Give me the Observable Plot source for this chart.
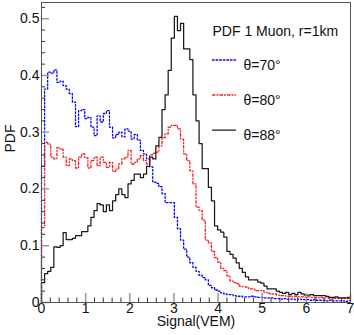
<!DOCTYPE html>
<html><head><meta charset="utf-8">
<script src="https://cdn.jsdelivr.net/npm/d3@7"></script>
<script src="https://cdn.jsdelivr.net/npm/@observablehq/plot@0.6"></script>
<style>
html,body{margin:0;padding:0;background:#fff;}
svg{font-family:"Liberation Sans",Arial,sans-serif;}
</style></head><body><div id="chart"></div>
<script>
// ---- data ----
const binWidth = 0.07; // VEM per bin, 100 bins from 0 to 7
const seriesNames = ["θ=70°", "θ=80°", "θ=88°"];
const legendTitle = "PDF 1 Muon, r=1km";
const xTitle = "Signal(VEM)";
const yTitle = "PDF";
const xTicks = [0, 1, 2, 3, 4, 5, 6, 7];
const xTickLabels = ["0", "1", "2", "3", "4", "5", "6", "7"];
const yTicks = [0, 0.1, 0.2, 0.3, 0.4, 0.5];
const yTickLabels = ["0", "0.1", "0.2", "0.3", "0.4", "0.5"];

const pdf70 = [
0.240,0.376,0.406,0.404,0.410,0.388,0.390,0.382,0.376,0.368,
0.353,0.310,0.338,0.340,0.324,0.326,0.309,0.294,0.329,0.318,
0.333,0.338,0.309,0.290,0.296,0.300,0.292,0.306,0.302,0.288,
0.296,0.286,0.268,0.262,0.253,0.239,0.212,0.210,0.204,0.192,
0.176,0.176,0.176,0.150,0.130,0.110,0.094,0.080,0.070,0.062,
0.055,0.048,0.044,0.040,0.030,0.026,0.022,0.020,0.017,0.015,
0.014,0.014,0.012,0.011,0.011,0.010,0.010,0.010,0.011,0.010,
0.009,0.009,0.008,0.008,0.008,0.007,0.007,0.006,0.007,0.006,
0.006,0.006,0.005,0.006,0.005,0.005,0.005,0.004,0.005,0.004,
0.004,0.004,0.003,0.004,0.003,0.003,0.003,0.003,0.002,0.003];

const pdf80 = [
0.132,0.282,0.279,0.256,0.253,0.273,0.270,0.256,0.241,0.253,
0.250,0.237,0.256,0.262,0.255,0.237,0.250,0.256,0.241,0.256,
0.247,0.238,0.247,0.231,0.235,0.244,0.253,0.256,0.268,0.244,
0.247,0.253,0.259,0.250,0.244,0.260,0.263,0.265,0.276,0.290,
0.297,0.309,0.312,0.312,0.306,0.288,0.262,0.250,0.232,0.209,
0.168,0.162,0.145,0.110,0.105,0.090,0.079,0.071,0.060,0.056,
0.047,0.038,0.035,0.033,0.029,0.028,0.027,0.024,0.024,0.021,
0.021,0.021,0.018,0.016,0.015,0.015,0.013,0.012,0.012,0.011,
0.011,0.010,0.011,0.010,0.010,0.009,0.010,0.009,0.009,0.008,
0.009,0.008,0.008,0.007,0.008,0.007,0.007,0.008,0.007,0.007];

const pdf88 = [
0.035,0.051,0.055,0.062,0.098,0.097,0.100,0.123,0.111,0.111,
0.113,0.118,0.118,0.125,0.125,0.135,0.150,0.162,0.174,0.172,
0.160,0.172,0.162,0.179,0.190,0.200,0.190,0.185,0.209,0.215,
0.226,0.226,0.220,0.226,0.240,0.256,0.253,0.276,0.291,0.340,
0.366,0.409,0.466,0.504,0.479,0.492,0.447,0.447,0.428,0.366,
0.320,0.280,0.236,0.236,0.203,0.179,0.135,0.128,0.124,0.115,
0.090,0.085,0.078,0.070,0.060,0.053,0.045,0.040,0.040,0.040,
0.036,0.034,0.029,0.024,0.024,0.024,0.020,0.018,0.016,0.018,
0.014,0.016,0.014,0.018,0.015,0.013,0.013,0.014,0.012,0.012,
0.012,0.012,0.011,0.009,0.009,0.010,0.008,0.008,0.008,0.009];

// ---- styles ----
const styles = [
  {stroke: "#0000ff", dash: "1.6,2", width: 1.3},
  {stroke: "#ff1a1a", dash: "2.5,2,1,2", width: 1.3},
  {stroke: "#1a1a1a", dash: null, width: 1.25}
];

function toSteps(values) {
  const pts = [{x: 0, y: 0}];
  values.forEach((v, i) => pts.push({x: i * binWidth, y: v}));
  pts.push({x: values.length * binWidth, y: values[values.length - 1]});
  return pts;
}
const allSeries = [pdf70, pdf80, pdf88];

const xMinor = d3.range(0, 7.0001, 0.2).filter(d => Math.abs(d - Math.round(d)) > 1e-6);
const yMinor = d3.range(0, 0.529, 0.02).filter(d => Math.abs(d * 10 - Math.round(d * 10)) > 1e-6);

const tickShape = {draw(ctx, l) { ctx.moveTo(0, 0); ctx.lineTo(0, -l); }};

const marks = [];
allSeries.forEach((vals, k) => {
  marks.push(Plot.line(toSteps(vals), {
    x: "x", y: "y", curve: "step-after",
    stroke: styles[k].stroke, strokeWidth: styles[k].width,
    strokeDasharray: styles[k].dash
  }));
});
// axes (inside ticks)
marks.push(
  Plot.axisX(xMinor, {tickSize: -4.5, tickFormat: () => "", stroke: "#333", label: null}),
  Plot.axisX(xTicks, {tickSize: -9, tickFormat: () => "", stroke: "#999", strokeWidth: 1.5, label: null}),
  Plot.axisX(xTicks, {tickSize: 0, tickPadding: 1, tickFormat: d => xTickLabels[xTicks.indexOf(d)], fontSize: 14, fill: "#111", label: null}),
  Plot.axisY(yMinor, {tickSize: -4, tickFormat: () => "", stroke: "#333", label: null}),
  Plot.axisY(yTicks, {tickSize: -8, tickFormat: () => "", stroke: "#999", strokeWidth: 1.5, label: null}),
  Plot.axisY(yTicks, {tickSize: 0, tickPadding: 2, tickFormat: d => yTickLabels[yTicks.indexOf(d)], fontSize: 14, fill: "#111", label: null}),
  Plot.frame({stroke: "#555"}),
  Plot.text([xTitle], {frameAnchor: "bottom", dy: 23.5, fontSize: 14, fill: "#111"}),
  Plot.text([yTitle], {frameAnchor: "left", dx: -31, rotate: -90, fontSize: 14, fill: "#111"}),
  Plot.text([legendTitle], {frameAnchor: "top-left", dx: 171, dy: 24, textAnchor: "start", fontSize: 14, fill: "#111"})
);
const legendDy = [57.5, 92.5, 127.5];
seriesNames.forEach((name, k) => {
  marks.push(
    Plot.vector([0], {frameAnchor: "top-left", dx: 171, dy: legendDy[k], rotate: 90, anchor: "start", length: 23,
      shape: tickShape, stroke: styles[k].stroke, strokeWidth: styles[k].width, strokeDasharray: styles[k].dash}),
    Plot.text([name], {frameAnchor: "top-left", dx: 202, dy: legendDy[k], textAnchor: "start", fontSize: 14, fill: "#111"})
  );
});

const chart = Plot.plot({
  width: 354, height: 335,
  marginLeft: 41, marginRight: 4, marginTop: 2, marginBottom: 33,
  style: {fontFamily: '"Liberation Sans", Arial, sans-serif', background: "#fff", overflow: "visible"},
  x: {domain: [0, 7], label: null},
  y: {domain: [0, 0.5286], label: null},
  marks
});
document.getElementById("chart").appendChild(chart);
</script></body></html>
